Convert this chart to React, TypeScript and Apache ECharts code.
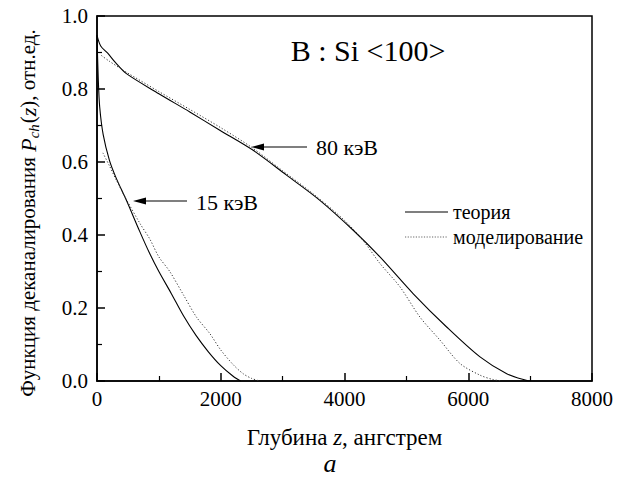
import React, { useEffect, useRef } from "react";
import * as echarts from "echarts";

const xTicks = [0, 2000, 4000, 6000, 8000];
const yTicks = [0.0, 0.2, 0.4, 0.6, 0.8, 1.0];

const theory80Z = [0, 60, 173, 300, 475, 1000, 1500, 1985, 2524, 3063, 3602, 4141, 4573, 5112, 5651, 6190, 6622, 6950, 7000];
const theory80P = [0.947, 0.918, 0.898, 0.872, 0.842, 0.787, 0.737, 0.687, 0.632, 0.564, 0.495, 0.413, 0.340, 0.239, 0.148, 0.066, 0.020, 0.001, 0];

const sim80Z = [70, 200, 475, 1000, 1500, 2000, 2500, 3000, 3500, 4000, 4300, 4573, 4896, 5220, 5543, 5866, 6190, 6400, 6550];
const sim80P = [0.892, 0.876, 0.846, 0.793, 0.744, 0.694, 0.640, 0.576, 0.512, 0.440, 0.385, 0.322, 0.258, 0.175, 0.112, 0.048, 0.016, 0.004, 0];

const theory15Z = [0, 20, 44, 100, 200, 300, 475, 690, 850, 1000, 1200, 1400, 1600, 1800, 2000, 2200, 2320];
const theory15P = [0.947, 0.83, 0.75, 0.675, 0.605, 0.56, 0.495, 0.41, 0.35, 0.30, 0.24, 0.178, 0.125, 0.08, 0.042, 0.013, 0];

const sim15Z = [95, 200, 313, 450, 700, 850, 1000, 1176, 1400, 1608, 1823, 2000, 2200, 2362, 2500, 2632];
const sim15P = [0.625, 0.59, 0.55, 0.505, 0.43, 0.39, 0.34, 0.30, 0.235, 0.175, 0.13, 0.085, 0.045, 0.02, 0.007, 0];

const legendNames = ["теория", "моделирование"];

const zip = (xs: number[], ys: number[]) => xs.map((x, i) => [x, ys[i]]);

const FONT = "Liberation Serif";

export default function App() {
  const ref = useRef<HTMLDivElement>(null);
  useEffect(() => {
    if (!ref.current) return;
    const chart = echarts.init(ref.current, undefined, { renderer: "svg" });
    const solid = { color: "#000", width: 1.1, type: "solid" as const };
    const dotted = { color: "#333", width: 1, type: [1.2, 2] as any };
    chart.setOption({
      animation: false,
      backgroundColor: "#fff",
      textStyle: { fontFamily: FONT, color: "#000" },
      grid: {
        left: 97,
        right: 29,
        top: 16,
        bottom: 98,
        show: true,
        borderColor: "#000",
        borderWidth: 1.5,
        backgroundColor: "transparent",
      },
      xAxis: {
        type: "value",
        min: 0,
        max: 8000,
        interval: 2000,
        axisLine: { show: true, lineStyle: { color: "#000", width: 1.5 } },
        axisTick: { show: true, inside: true, length: 8, lineStyle: { color: "#000", width: 1.5 } },
        minorTick: { show: true, splitNumber: 2, length: 5, lineStyle: { color: "#000", width: 1.2 } },
        splitLine: { show: false },
        axisLabel: {
          fontFamily: FONT,
          fontSize: 21,
          color: "#000",
          margin: 7,
          formatter: (v: number) => (xTicks.includes(v) ? String(v) : ""),
        },
        name: "Глубина {i|z}, ангстрем",
        nameLocation: "middle",
        nameGap: 45,
        nameTextStyle: {
          fontFamily: FONT,
          fontSize: 23,
          color: "#000",
          rich: { i: { fontFamily: FONT, fontSize: 23, fontStyle: "italic", color: "#000" } },
        },
      },
      yAxis: {
        type: "value",
        min: 0,
        max: 1,
        interval: 0.2,
        axisLine: { show: true, lineStyle: { color: "#000", width: 1.5 } },
        axisTick: { show: true, inside: true, length: 8, lineStyle: { color: "#000", width: 1.5 } },
        minorTick: { show: true, splitNumber: 2, length: 5, lineStyle: { color: "#000", width: 1.2 } },
        splitLine: { show: false },
        axisLabel: {
          fontFamily: FONT,
          fontSize: 21,
          color: "#000",
          margin: 9,
          formatter: (v: number) => {
            const t = yTicks.find((y) => Math.abs(y - v) < 1e-6);
            return t === undefined ? "" : t.toFixed(1);
          },
        },
      },
      graphic: [
        {
          type: "text",
          x: 28,
          y: 213,
          rotation: Math.PI / 2,
          style: {
            text: "{a|Функция деканалирования }{i|P}{s|ch}{a|(}{i|z}{a|), отн.ед.}",
            align: "center",
            verticalAlign: "middle",
            fill: "#000",
            fontFamily: FONT,
            fontSize: 21,
            rich: {
              a: { fontFamily: FONT, fontSize: 21, lineHeight: 26, fill: "#000", verticalAlign: "middle" },
              i: { fontFamily: FONT, fontSize: 22, fontStyle: "italic", lineHeight: 26, fill: "#000", verticalAlign: "middle" },
              s: { fontFamily: FONT, fontSize: 15, fontStyle: "italic", lineHeight: 14, fill: "#000", verticalAlign: "bottom", padding: [8, 1, 0, 0] },
            },
          },
        },
        {
          type: "text",
          x: 368,
          y: 50,
          style: { text: "B : Si <100>", align: "center", verticalAlign: "middle", fontFamily: FONT, fontSize: 30, fill: "#000" },
        },
        {
          type: "text",
          x: 316,
          y: 147,
          style: { text: "80 кэВ", align: "left", verticalAlign: "middle", fontFamily: FONT, fontSize: 22, fill: "#000" },
        },
        {
          type: "line",
          shape: { x1: 307, y1: 147, x2: 258, y2: 147 },
          style: { stroke: "#000", lineWidth: 1.2 },
        },
        {
          type: "polygon",
          shape: { points: [[251, 147], [264, 143.5], [264, 150.5]] },
          style: { fill: "#000" },
        },
        {
          type: "text",
          x: 196,
          y: 202,
          style: { text: "15 кэВ", align: "left", verticalAlign: "middle", fontFamily: FONT, fontSize: 22, fill: "#000" },
        },
        {
          type: "line",
          shape: { x1: 187, y1: 201, x2: 140, y2: 201 },
          style: { stroke: "#000", lineWidth: 1.2 },
        },
        {
          type: "polygon",
          shape: { points: [[133, 201], [146, 197.5], [146, 204.5]] },
          style: { fill: "#000" },
        },
        {
          type: "line",
          shape: { x1: 405, y1: 212, x2: 448, y2: 212 },
          style: { stroke: "#555", lineWidth: 1.6 },
        },
        {
          type: "text",
          x: 453,
          y: 212,
          style: { text: legendNames[0], align: "left", verticalAlign: "middle", fontFamily: FONT, fontSize: 20, fill: "#000" },
        },
        {
          type: "line",
          shape: { x1: 405, y1: 237, x2: 448, y2: 237 },
          style: { stroke: "#666", lineWidth: 1.2, lineDash: [1.2, 1.5] },
        },
        {
          type: "text",
          x: 453,
          y: 237,
          style: { text: legendNames[1], align: "left", verticalAlign: "middle", fontFamily: FONT, fontSize: 20, fill: "#000" },
        },
        {
          type: "text",
          x: 330,
          y: 463,
          style: { text: "a", align: "center", verticalAlign: "middle", fontFamily: FONT, fontStyle: "italic", fontSize: 26, fill: "#000" },
        },
      ],
      series: [
        {
          name: legendNames[0] + " 80 кэВ",
          type: "line",
          data: zip(theory80Z, theory80P),
          showSymbol: false,
          symbol: "none",
          smooth: 0.3,
          lineStyle: solid,
        },
        {
          name: legendNames[1] + " 80 кэВ",
          type: "line",
          data: zip(sim80Z, sim80P),
          showSymbol: false,
          symbol: "none",
          smooth: 0.3,
          lineStyle: dotted,
        },
        {
          name: legendNames[0] + " 15 кэВ",
          type: "line",
          data: zip(theory15Z, theory15P),
          showSymbol: false,
          symbol: "none",
          smooth: 0.3,
          lineStyle: solid,
        },
        {
          name: legendNames[1] + " 15 кэВ",
          type: "line",
          data: zip(sim15Z, sim15P),
          showSymbol: false,
          symbol: "none",
          smooth: 0.3,
          lineStyle: dotted,
        },
      ],
    });
    return () => chart.dispose();
  }, []);
  return <div ref={ref} style={{ width: 621, height: 479, position: "absolute", left: 0, top: 0 }} />;
}
